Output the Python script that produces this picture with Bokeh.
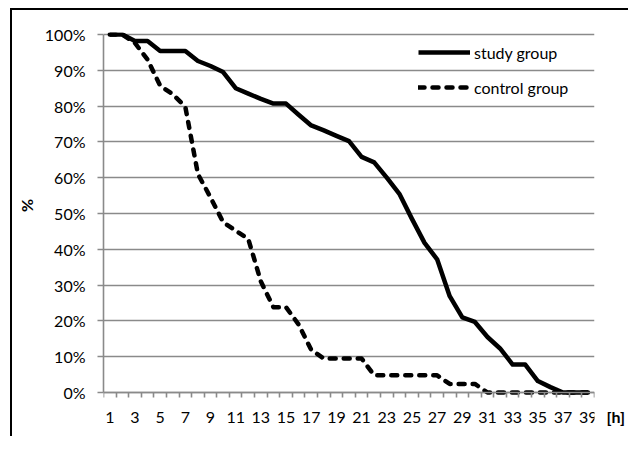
from bokeh.plotting import figure
from bokeh.models import Range1d, FixedTicker, Legend, LegendItem, LinearAxis
from bokeh.embed import file_html
from bokeh.resources import INLINE

hours = list(range(1, 40))
study_group = [100, 100, 98.2, 98.2, 95.4, 95.4, 95.4, 92.6, 91.2, 89.5,
               85.0, 83.5, 82.0, 80.7, 80.7, 77.6, 74.6, 73.2, 71.7, 70.2,
               65.8, 64.3, 60.0, 55.5, 48.5, 41.8, 37.2, 26.9, 21.0, 19.7,
               15.5, 12.3, 7.8, 7.8, 3.2, 1.5, 0, 0, 0]
control_group = [100, 100, 97.6, 93.0, 85.7, 83.3, 79.8, 61.0, 54.5, 47.6,
                 45.2, 42.9, 31.0, 23.8, 23.8, 19.0, 11.9, 9.5, 9.5, 9.5,
                 9.5, 4.8, 4.8, 4.8, 4.8, 4.8, 4.8, 2.4, 2.4, 2.4,
                 0, 0, 0, 0, 0, 0, 0, 0, 0]
y_ticks = list(range(0, 101, 10))
x_label_ticks = list(range(1, 40, 2))
x_unit_label = "[h]"
y_title = "%"

FONT = "Lato"
FS = "16px"
GRID = "#8a8a8a"

# the frame runs to the bottom of the canvas; 0..100 % fills the upper 358 px
PX_PER_UNIT = 3.58
y_start = -(436 - 32 - 358 - 2) / PX_PER_UNIT
y_end = 100 + 2 / PX_PER_UNIT

p = figure(width=628, height=436, output_backend="svg", toolbar_location=None,
           x_range=Range1d(0.5, 39.5), y_range=Range1d(y_start, y_end),
           min_border_left=103, min_border_right=32, min_border_top=32, min_border_bottom=0)
p.outline_line_color = None
p.background_fill_color = "white"
p.border_fill_alpha = 0
# chart-area border: left and top edges only (the rest lies outside the window)
p.styles = {
    "background-color": "white",
    "background-image": "linear-gradient(black, black), linear-gradient(black, black)",
    "background-size": "2px 100%, 100% 2px",
    "background-position": "10px 8px, 10px 8px",
    "background-repeat": "no-repeat",
}

# grid
p.xgrid.visible = False
p.ygrid.ticker = FixedTicker(ticks=y_ticks)
p.ygrid.grid_line_color = GRID
p.ygrid.grid_line_width = 1.6

# y axis
ya = p.yaxis[0]
ya.ticker = FixedTicker(ticks=y_ticks)
ya.bounds = (0, 100)
ya.major_label_overrides = {t: f"{t}%" for t in y_ticks}
ya.axis_line_color = GRID
ya.axis_line_width = 1.6
ya.major_tick_line_color = GRID
ya.major_tick_line_width = 1.6
ya.major_tick_out = 6
ya.major_tick_in = 0
ya.minor_tick_line_color = None
ya.major_label_standoff = 12
ya.major_label_text_font = FONT
ya.major_label_text_font_size = FS
ya.major_label_text_color = "black"
# leading no-break spaces lift the rotated title to the middle of the 0-100 % span
ya.axis_label = "\u00a0" * 15 + y_title
ya.axis_label_text_font = FONT
ya.axis_label_text_font_style = "bold"
ya.axis_label_text_font_size = FS
ya.axis_label_text_color = "black"
ya.axis_label_standoff = 6

# x axis, pinned to 0 %
xa = p.xaxis[0]
xa.fixed_location = 0
xa.ticker = FixedTicker(ticks=x_label_ticks, minor_ticks=[h + 0.5 for h in range(0, 40)])
xa.axis_line_color = GRID
xa.axis_line_width = 1.6
xa.major_tick_line_color = None
xa.major_tick_out = 0
xa.major_tick_in = 0
xa.minor_tick_line_color = GRID
xa.minor_tick_line_width = 1.6
xa.minor_tick_out = 5
xa.minor_tick_in = 0
xa.major_label_standoff = 14
xa.major_label_text_font = FONT
xa.major_label_text_font_size = FS
xa.major_label_text_color = "black"

# unit of the x axis, set on the row of the x tick labels, right of the plot
unit_y = -24 / PX_PER_UNIT
ua = LinearAxis(ticker=FixedTicker(ticks=[unit_y]),
                major_label_overrides={unit_y: x_unit_label},
                axis_line_color=None, major_tick_line_color=None,
                minor_tick_line_color=None, major_tick_out=0, major_tick_in=0,
                major_label_standoff=12, major_label_text_font=FONT,
                major_label_text_font_style="bold", major_label_text_font_size=FS,
                major_label_text_color="black")
p.add_layout(ua, "right")

r1 = p.line(hours, study_group, line_color="black", line_width=4.5, line_join="round")
r2 = p.line(hours, control_group, line_color="black", line_width=4.5, line_dash="6 8",
            line_cap="round", line_join="round")

legend = Legend(items=[LegendItem(label="study group", renderers=[r1]),
                       LegendItem(label="control group", renderers=[r2])],
                location=(315, 339), glyph_width=52, glyph_height=20, spacing=15,
                label_standoff=4, padding=0, margin=0, border_line_color=None,
                background_fill_alpha=0, label_text_font=FONT,
                label_text_font_size=FS, label_text_color="black")
p.add_layout(legend)

open("out.html", "w").write(file_html(p, INLINE))
